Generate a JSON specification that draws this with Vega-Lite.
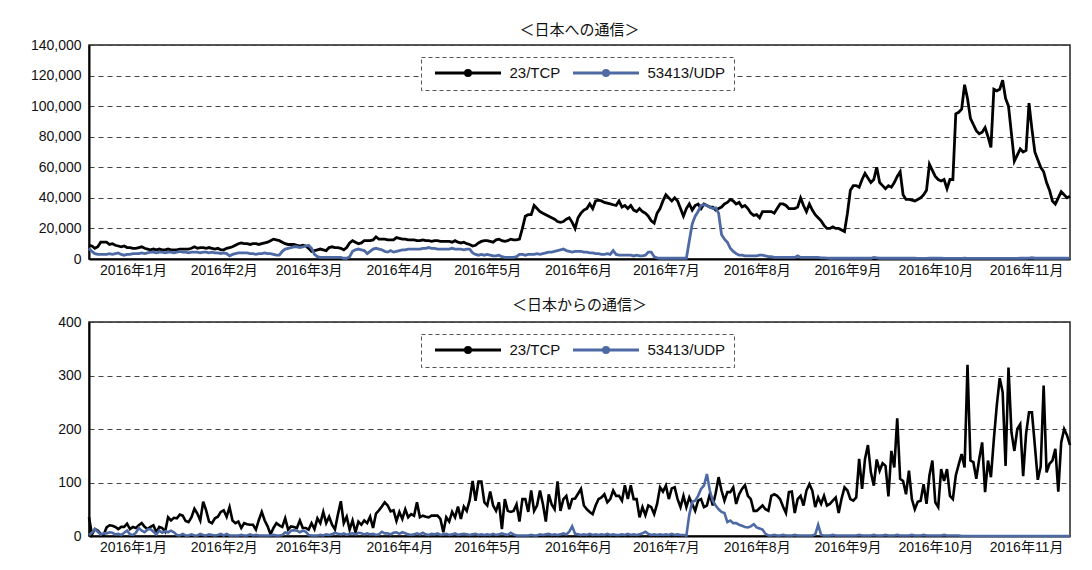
{
"$schema":"https://vega.github.io/schema/vega-lite/v6.json",
"background":"white",
"padding":{"left":28,"top":22,"right":23,"bottom":5},
"spacing":19,
"config":{
"font":"Noto Sans CJK JP",
"view":{"stroke":"#222","strokeWidth":1.5},
"axis":{"labelFont":"Liberation Sans, Noto Sans CJK JP","labelFontSize":14,"labelColor":"#111","ticks":false,"domainColor":"#000","domainWidth":2,"gridColor":"#444","gridDash":[5,4],"gridWidth":1},
"title":{"font":"Noto Sans CJK JP","fontSize":15,"fontWeight":"normal","color":"#111"},
"legend":{"orient":"none","legendX":332,"legendY":12,"direction":"horizontal","symbolType":"M-0.25,0H10.75M5.67,0A0.42,0.42,0,1,1,4.83,0A0.42,0.42,0,1,1,5.67,0","symbolSize":144,"symbolStrokeWidth":3,"labelFont":"Liberation Sans, Noto Sans CJK JP","labelFontSize":15,"labelColor":"#111","labelOffset":65.5,"columnPadding":6,"padding":8,"strokeColor":"#555","fillColor":"white"}
},
"resolve":{"scale":{"color":"independent"},"legend":{"color":"independent"}},
"datasets":{
"to_japan":[
{"date":"2015-12-17","23/TCP":9000,"53413/UDP":7000},
{"date":"2015-12-18","23/TCP":8500,"53413/UDP":5000},
{"date":"2015-12-19","23/TCP":7000,"53413/UDP":3500},
{"date":"2015-12-20","23/TCP":8000,"53413/UDP":3000},
{"date":"2015-12-21","23/TCP":11000,"53413/UDP":3000},
{"date":"2015-12-22","23/TCP":11000,"53413/UDP":3000},
{"date":"2015-12-23","23/TCP":11000,"53413/UDP":3000},
{"date":"2015-12-24","23/TCP":9500,"53413/UDP":3500},
{"date":"2015-12-25","23/TCP":10000,"53413/UDP":3000},
{"date":"2015-12-26","23/TCP":9000,"53413/UDP":3500},
{"date":"2015-12-27","23/TCP":8500,"53413/UDP":4000},
{"date":"2015-12-28","23/TCP":8000,"53413/UDP":3000},
{"date":"2015-12-29","23/TCP":8500,"53413/UDP":2500},
{"date":"2015-12-30","23/TCP":7500,"53413/UDP":3000},
{"date":"2015-12-31","23/TCP":7500,"53413/UDP":3000},
{"date":"2016-01-01","23/TCP":7000,"53413/UDP":3500},
{"date":"2016-01-02","23/TCP":7000,"53413/UDP":3500},
{"date":"2016-01-03","23/TCP":7500,"53413/UDP":3500},
{"date":"2016-01-04","23/TCP":8000,"53413/UDP":4000},
{"date":"2016-01-05","23/TCP":7000,"53413/UDP":3500},
{"date":"2016-01-06","23/TCP":6500,"53413/UDP":4000},
{"date":"2016-01-07","23/TCP":6000,"53413/UDP":4500},
{"date":"2016-01-08","23/TCP":6500,"53413/UDP":4500},
{"date":"2016-01-09","23/TCP":6000,"53413/UDP":4000},
{"date":"2016-01-10","23/TCP":6500,"53413/UDP":4500},
{"date":"2016-01-11","23/TCP":6000,"53413/UDP":4500},
{"date":"2016-01-12","23/TCP":6000,"53413/UDP":4000},
{"date":"2016-01-13","23/TCP":6500,"53413/UDP":4500},
{"date":"2016-01-14","23/TCP":6000,"53413/UDP":4500},
{"date":"2016-01-15","23/TCP":6000,"53413/UDP":4000},
{"date":"2016-01-16","23/TCP":6000,"53413/UDP":4500},
{"date":"2016-01-17","23/TCP":6500,"53413/UDP":5000},
{"date":"2016-01-18","23/TCP":6500,"53413/UDP":4500},
{"date":"2016-01-19","23/TCP":6500,"53413/UDP":4500},
{"date":"2016-01-20","23/TCP":6500,"53413/UDP":4000},
{"date":"2016-01-21","23/TCP":7000,"53413/UDP":4500},
{"date":"2016-01-22","23/TCP":8000,"53413/UDP":4500},
{"date":"2016-01-23","23/TCP":7000,"53413/UDP":4500},
{"date":"2016-01-24","23/TCP":7500,"53413/UDP":4000},
{"date":"2016-01-25","23/TCP":7500,"53413/UDP":4500},
{"date":"2016-01-26","23/TCP":7000,"53413/UDP":4500},
{"date":"2016-01-27","23/TCP":7500,"53413/UDP":4000},
{"date":"2016-01-28","23/TCP":7000,"53413/UDP":4500},
{"date":"2016-01-29","23/TCP":6500,"53413/UDP":4000},
{"date":"2016-01-30","23/TCP":7000,"53413/UDP":4000},
{"date":"2016-01-31","23/TCP":6000,"53413/UDP":3500},
{"date":"2016-02-01","23/TCP":6000,"53413/UDP":4000},
{"date":"2016-02-02","23/TCP":7000,"53413/UDP":3500},
{"date":"2016-02-03","23/TCP":7500,"53413/UDP":2000},
{"date":"2016-02-04","23/TCP":8000,"53413/UDP":3000},
{"date":"2016-02-05","23/TCP":9000,"53413/UDP":3500},
{"date":"2016-02-06","23/TCP":10000,"53413/UDP":4000},
{"date":"2016-02-07","23/TCP":10500,"53413/UDP":4000},
{"date":"2016-02-08","23/TCP":10000,"53413/UDP":4000},
{"date":"2016-02-09","23/TCP":10000,"53413/UDP":4000},
{"date":"2016-02-10","23/TCP":9500,"53413/UDP":3500},
{"date":"2016-02-11","23/TCP":10000,"53413/UDP":3500},
{"date":"2016-02-12","23/TCP":10000,"53413/UDP":3000},
{"date":"2016-02-13","23/TCP":9500,"53413/UDP":3500},
{"date":"2016-02-14","23/TCP":10000,"53413/UDP":3500},
{"date":"2016-02-15","23/TCP":10500,"53413/UDP":4000},
{"date":"2016-02-16","23/TCP":11000,"53413/UDP":3500},
{"date":"2016-02-17","23/TCP":12000,"53413/UDP":3500},
{"date":"2016-02-18","23/TCP":13000,"53413/UDP":3000},
{"date":"2016-02-19","23/TCP":12500,"53413/UDP":2500},
{"date":"2016-02-20","23/TCP":12000,"53413/UDP":2500},
{"date":"2016-02-21","23/TCP":11000,"53413/UDP":5000},
{"date":"2016-02-22","23/TCP":10000,"53413/UDP":6500},
{"date":"2016-02-23","23/TCP":9500,"53413/UDP":7000},
{"date":"2016-02-24","23/TCP":9500,"53413/UDP":7500},
{"date":"2016-02-25","23/TCP":9500,"53413/UDP":8000},
{"date":"2016-02-26","23/TCP":9000,"53413/UDP":8000},
{"date":"2016-02-27","23/TCP":8500,"53413/UDP":7500},
{"date":"2016-02-28","23/TCP":9000,"53413/UDP":8000},
{"date":"2016-02-29","23/TCP":8500,"53413/UDP":8500},
{"date":"2016-03-01","23/TCP":7000,"53413/UDP":9000},
{"date":"2016-03-02","23/TCP":5000,"53413/UDP":7000},
{"date":"2016-03-03","23/TCP":5500,"53413/UDP":3000},
{"date":"2016-03-04","23/TCP":6000,"53413/UDP":1500},
{"date":"2016-03-05","23/TCP":6500,"53413/UDP":1000},
{"date":"2016-03-06","23/TCP":6000,"53413/UDP":1000},
{"date":"2016-03-07","23/TCP":5500,"53413/UDP":1000},
{"date":"2016-03-08","23/TCP":7500,"53413/UDP":1000},
{"date":"2016-03-09","23/TCP":8000,"53413/UDP":1000},
{"date":"2016-03-10","23/TCP":7500,"53413/UDP":1000},
{"date":"2016-03-11","23/TCP":7500,"53413/UDP":1000},
{"date":"2016-03-12","23/TCP":7000,"53413/UDP":1000},
{"date":"2016-03-13","23/TCP":6000,"53413/UDP":500},
{"date":"2016-03-14","23/TCP":7500,"53413/UDP":500},
{"date":"2016-03-15","23/TCP":10500,"53413/UDP":1500},
{"date":"2016-03-16","23/TCP":12000,"53413/UDP":5000},
{"date":"2016-03-17","23/TCP":11000,"53413/UDP":6000},
{"date":"2016-03-18","23/TCP":10000,"53413/UDP":6500},
{"date":"2016-03-19","23/TCP":10500,"53413/UDP":6000},
{"date":"2016-03-20","23/TCP":12000,"53413/UDP":5500},
{"date":"2016-03-21","23/TCP":12000,"53413/UDP":3500},
{"date":"2016-03-22","23/TCP":12000,"53413/UDP":5000},
{"date":"2016-03-23","23/TCP":12500,"53413/UDP":6500},
{"date":"2016-03-24","23/TCP":14500,"53413/UDP":7000},
{"date":"2016-03-25","23/TCP":13000,"53413/UDP":6500},
{"date":"2016-03-26","23/TCP":13000,"53413/UDP":6000},
{"date":"2016-03-27","23/TCP":13000,"53413/UDP":5000},
{"date":"2016-03-28","23/TCP":12500,"53413/UDP":4500},
{"date":"2016-03-29","23/TCP":12500,"53413/UDP":5500},
{"date":"2016-03-30","23/TCP":12500,"53413/UDP":4500},
{"date":"2016-03-31","23/TCP":14000,"53413/UDP":5000},
{"date":"2016-04-01","23/TCP":13500,"53413/UDP":5500},
{"date":"2016-04-02","23/TCP":13000,"53413/UDP":6000},
{"date":"2016-04-03","23/TCP":13000,"53413/UDP":6000},
{"date":"2016-04-04","23/TCP":12500,"53413/UDP":6500},
{"date":"2016-04-05","23/TCP":12500,"53413/UDP":6500},
{"date":"2016-04-06","23/TCP":12500,"53413/UDP":6500},
{"date":"2016-04-07","23/TCP":12000,"53413/UDP":6500},
{"date":"2016-04-08","23/TCP":12000,"53413/UDP":6500},
{"date":"2016-04-09","23/TCP":12500,"53413/UDP":7000},
{"date":"2016-04-10","23/TCP":12000,"53413/UDP":7000},
{"date":"2016-04-11","23/TCP":12000,"53413/UDP":7500},
{"date":"2016-04-12","23/TCP":11500,"53413/UDP":7000},
{"date":"2016-04-13","23/TCP":12000,"53413/UDP":7000},
{"date":"2016-04-14","23/TCP":12000,"53413/UDP":6500},
{"date":"2016-04-15","23/TCP":11500,"53413/UDP":6500},
{"date":"2016-04-16","23/TCP":11500,"53413/UDP":6500},
{"date":"2016-04-17","23/TCP":11500,"53413/UDP":6500},
{"date":"2016-04-18","23/TCP":11500,"53413/UDP":6500},
{"date":"2016-04-19","23/TCP":11000,"53413/UDP":7000},
{"date":"2016-04-20","23/TCP":12000,"53413/UDP":6500},
{"date":"2016-04-21","23/TCP":11000,"53413/UDP":6500},
{"date":"2016-04-22","23/TCP":10500,"53413/UDP":6500},
{"date":"2016-04-23","23/TCP":11000,"53413/UDP":6000},
{"date":"2016-04-24","23/TCP":10000,"53413/UDP":6500},
{"date":"2016-04-25","23/TCP":9500,"53413/UDP":6500},
{"date":"2016-04-26","23/TCP":8500,"53413/UDP":4000},
{"date":"2016-04-27","23/TCP":9000,"53413/UDP":3000},
{"date":"2016-04-28","23/TCP":10500,"53413/UDP":2500},
{"date":"2016-04-29","23/TCP":11500,"53413/UDP":3000},
{"date":"2016-04-30","23/TCP":12000,"53413/UDP":2500},
{"date":"2016-05-01","23/TCP":12000,"53413/UDP":3000},
{"date":"2016-05-02","23/TCP":11500,"53413/UDP":2500},
{"date":"2016-05-03","23/TCP":11000,"53413/UDP":2000},
{"date":"2016-05-04","23/TCP":12500,"53413/UDP":2000},
{"date":"2016-05-05","23/TCP":13000,"53413/UDP":2500},
{"date":"2016-05-06","23/TCP":12000,"53413/UDP":1500},
{"date":"2016-05-07","23/TCP":11500,"53413/UDP":1000},
{"date":"2016-05-08","23/TCP":12000,"53413/UDP":1000},
{"date":"2016-05-09","23/TCP":13000,"53413/UDP":1000},
{"date":"2016-05-10","23/TCP":12500,"53413/UDP":1000},
{"date":"2016-05-11","23/TCP":12500,"53413/UDP":1500},
{"date":"2016-05-12","23/TCP":13000,"53413/UDP":3000},
{"date":"2016-05-13","23/TCP":20000,"53413/UDP":3000},
{"date":"2016-05-14","23/TCP":28000,"53413/UDP":2500},
{"date":"2016-05-15","23/TCP":29000,"53413/UDP":3000},
{"date":"2016-05-16","23/TCP":29000,"53413/UDP":3000},
{"date":"2016-05-17","23/TCP":35000,"53413/UDP":3000},
{"date":"2016-05-18","23/TCP":33000,"53413/UDP":3500},
{"date":"2016-05-19","23/TCP":31000,"53413/UDP":3000},
{"date":"2016-05-20","23/TCP":30000,"53413/UDP":3500},
{"date":"2016-05-21","23/TCP":29000,"53413/UDP":4000},
{"date":"2016-05-22","23/TCP":28000,"53413/UDP":4500},
{"date":"2016-05-23","23/TCP":27000,"53413/UDP":4500},
{"date":"2016-05-24","23/TCP":26000,"53413/UDP":5000},
{"date":"2016-05-25","23/TCP":24500,"53413/UDP":5500},
{"date":"2016-05-26","23/TCP":24000,"53413/UDP":6000},
{"date":"2016-05-27","23/TCP":24500,"53413/UDP":6500},
{"date":"2016-05-28","23/TCP":26000,"53413/UDP":5500},
{"date":"2016-05-29","23/TCP":27000,"53413/UDP":5000},
{"date":"2016-05-30","23/TCP":24000,"53413/UDP":4500},
{"date":"2016-05-31","23/TCP":20000,"53413/UDP":5000},
{"date":"2016-06-01","23/TCP":27000,"53413/UDP":5000},
{"date":"2016-06-02","23/TCP":30000,"53413/UDP":5000},
{"date":"2016-06-03","23/TCP":32000,"53413/UDP":4500},
{"date":"2016-06-04","23/TCP":33000,"53413/UDP":4500},
{"date":"2016-06-05","23/TCP":36000,"53413/UDP":4000},
{"date":"2016-06-06","23/TCP":33000,"53413/UDP":4000},
{"date":"2016-06-07","23/TCP":38000,"53413/UDP":3500},
{"date":"2016-06-08","23/TCP":38500,"53413/UDP":3500},
{"date":"2016-06-09","23/TCP":38000,"53413/UDP":3000},
{"date":"2016-06-10","23/TCP":37000,"53413/UDP":3000},
{"date":"2016-06-11","23/TCP":36500,"53413/UDP":3500},
{"date":"2016-06-12","23/TCP":36000,"53413/UDP":3000},
{"date":"2016-06-13","23/TCP":35500,"53413/UDP":5500},
{"date":"2016-06-14","23/TCP":35000,"53413/UDP":3000},
{"date":"2016-06-15","23/TCP":38000,"53413/UDP":2500},
{"date":"2016-06-16","23/TCP":34000,"53413/UDP":2500},
{"date":"2016-06-17","23/TCP":35000,"53413/UDP":2500},
{"date":"2016-06-18","23/TCP":33000,"53413/UDP":2500},
{"date":"2016-06-19","23/TCP":35000,"53413/UDP":2500},
{"date":"2016-06-20","23/TCP":32000,"53413/UDP":2000},
{"date":"2016-06-21","23/TCP":31000,"53413/UDP":2500},
{"date":"2016-06-22","23/TCP":33000,"53413/UDP":2000},
{"date":"2016-06-23","23/TCP":31000,"53413/UDP":2000},
{"date":"2016-06-24","23/TCP":30000,"53413/UDP":2500},
{"date":"2016-06-25","23/TCP":28000,"53413/UDP":4500},
{"date":"2016-06-26","23/TCP":25000,"53413/UDP":4500},
{"date":"2016-06-27","23/TCP":23500,"53413/UDP":1500},
{"date":"2016-06-28","23/TCP":30000,"53413/UDP":800},
{"date":"2016-06-29","23/TCP":33000,"53413/UDP":500},
{"date":"2016-06-30","23/TCP":38000,"53413/UDP":500},
{"date":"2016-07-01","23/TCP":42000,"53413/UDP":500},
{"date":"2016-07-02","23/TCP":40000,"53413/UDP":500},
{"date":"2016-07-03","23/TCP":38000,"53413/UDP":500},
{"date":"2016-07-04","23/TCP":40000,"53413/UDP":500},
{"date":"2016-07-05","23/TCP":38000,"53413/UDP":500},
{"date":"2016-07-06","23/TCP":33000,"53413/UDP":500},
{"date":"2016-07-07","23/TCP":28000,"53413/UDP":500},
{"date":"2016-07-08","23/TCP":33000,"53413/UDP":500},
{"date":"2016-07-09","23/TCP":36000,"53413/UDP":12000},
{"date":"2016-07-10","23/TCP":32000,"53413/UDP":23000},
{"date":"2016-07-11","23/TCP":35000,"53413/UDP":28000},
{"date":"2016-07-12","23/TCP":36000,"53413/UDP":31000},
{"date":"2016-07-13","23/TCP":33000,"53413/UDP":35000},
{"date":"2016-07-14","23/TCP":36000,"53413/UDP":35500},
{"date":"2016-07-15","23/TCP":35000,"53413/UDP":35000},
{"date":"2016-07-16","23/TCP":34000,"53413/UDP":34000},
{"date":"2016-07-17","23/TCP":34000,"53413/UDP":33000},
{"date":"2016-07-18","23/TCP":32000,"53413/UDP":33500},
{"date":"2016-07-19","23/TCP":33000,"53413/UDP":30000},
{"date":"2016-07-20","23/TCP":34000,"53413/UDP":16000},
{"date":"2016-07-21","23/TCP":36000,"53413/UDP":13000},
{"date":"2016-07-22","23/TCP":37000,"53413/UDP":11000},
{"date":"2016-07-23","23/TCP":39000,"53413/UDP":7000},
{"date":"2016-07-24","23/TCP":38000,"53413/UDP":5000},
{"date":"2016-07-25","23/TCP":36000,"53413/UDP":3500},
{"date":"2016-07-26","23/TCP":37000,"53413/UDP":2500},
{"date":"2016-07-27","23/TCP":34000,"53413/UDP":2500},
{"date":"2016-07-28","23/TCP":35000,"53413/UDP":2000},
{"date":"2016-07-29","23/TCP":33000,"53413/UDP":2000},
{"date":"2016-07-30","23/TCP":30000,"53413/UDP":2000},
{"date":"2016-07-31","23/TCP":28500,"53413/UDP":2000},
{"date":"2016-08-01","23/TCP":29000,"53413/UDP":2000},
{"date":"2016-08-02","23/TCP":27000,"53413/UDP":2500},
{"date":"2016-08-03","23/TCP":31000,"53413/UDP":2500},
{"date":"2016-08-04","23/TCP":31000,"53413/UDP":2000},
{"date":"2016-08-05","23/TCP":31000,"53413/UDP":1500},
{"date":"2016-08-06","23/TCP":31000,"53413/UDP":1500},
{"date":"2016-08-07","23/TCP":30000,"53413/UDP":1000},
{"date":"2016-08-08","23/TCP":33000,"53413/UDP":1000},
{"date":"2016-08-09","23/TCP":36000,"53413/UDP":1000},
{"date":"2016-08-10","23/TCP":36000,"53413/UDP":1000},
{"date":"2016-08-11","23/TCP":35000,"53413/UDP":1000},
{"date":"2016-08-12","23/TCP":33000,"53413/UDP":1000},
{"date":"2016-08-13","23/TCP":33000,"53413/UDP":1000},
{"date":"2016-08-14","23/TCP":33000,"53413/UDP":1000},
{"date":"2016-08-15","23/TCP":34000,"53413/UDP":2000},
{"date":"2016-08-16","23/TCP":40000,"53413/UDP":1000},
{"date":"2016-08-17","23/TCP":35000,"53413/UDP":1000},
{"date":"2016-08-18","23/TCP":31000,"53413/UDP":1000},
{"date":"2016-08-19","23/TCP":36000,"53413/UDP":1000},
{"date":"2016-08-20","23/TCP":32000,"53413/UDP":1000},
{"date":"2016-08-21","23/TCP":29000,"53413/UDP":1000},
{"date":"2016-08-22","23/TCP":27000,"53413/UDP":1000},
{"date":"2016-08-23","23/TCP":25000,"53413/UDP":800},
{"date":"2016-08-24","23/TCP":22000,"53413/UDP":800},
{"date":"2016-08-25","23/TCP":20000,"53413/UDP":600},
{"date":"2016-08-26","23/TCP":20000,"53413/UDP":500},
{"date":"2016-08-27","23/TCP":21000,"53413/UDP":500},
{"date":"2016-08-28","23/TCP":20000,"53413/UDP":500},
{"date":"2016-08-29","23/TCP":20000,"53413/UDP":500},
{"date":"2016-08-30","23/TCP":19000,"53413/UDP":500},
{"date":"2016-08-31","23/TCP":18000,"53413/UDP":500},
{"date":"2016-09-01","23/TCP":30000,"53413/UDP":500},
{"date":"2016-09-02","23/TCP":45000,"53413/UDP":500},
{"date":"2016-09-03","23/TCP":48000,"53413/UDP":500},
{"date":"2016-09-04","23/TCP":48000,"53413/UDP":500},
{"date":"2016-09-05","23/TCP":47000,"53413/UDP":500},
{"date":"2016-09-06","23/TCP":52000,"53413/UDP":500},
{"date":"2016-09-07","23/TCP":56000,"53413/UDP":500},
{"date":"2016-09-08","23/TCP":53000,"53413/UDP":500},
{"date":"2016-09-09","23/TCP":50000,"53413/UDP":500},
{"date":"2016-09-10","23/TCP":52000,"53413/UDP":1000},
{"date":"2016-09-11","23/TCP":60000,"53413/UDP":800},
{"date":"2016-09-12","23/TCP":50000,"53413/UDP":500},
{"date":"2016-09-13","23/TCP":48000,"53413/UDP":500},
{"date":"2016-09-14","23/TCP":46000,"53413/UDP":500},
{"date":"2016-09-15","23/TCP":48000,"53413/UDP":500},
{"date":"2016-09-16","23/TCP":47000,"53413/UDP":500},
{"date":"2016-09-17","23/TCP":50000,"53413/UDP":500},
{"date":"2016-09-18","23/TCP":54000,"53413/UDP":600},
{"date":"2016-09-19","23/TCP":57000,"53413/UDP":500},
{"date":"2016-09-20","23/TCP":42000,"53413/UDP":500},
{"date":"2016-09-21","23/TCP":39000,"53413/UDP":500},
{"date":"2016-09-22","23/TCP":39000,"53413/UDP":500},
{"date":"2016-09-23","23/TCP":38500,"53413/UDP":500},
{"date":"2016-09-24","23/TCP":38000,"53413/UDP":500},
{"date":"2016-09-25","23/TCP":39000,"53413/UDP":400},
{"date":"2016-09-26","23/TCP":40000,"53413/UDP":400},
{"date":"2016-09-27","23/TCP":42000,"53413/UDP":400},
{"date":"2016-09-28","23/TCP":45000,"53413/UDP":400},
{"date":"2016-09-29","23/TCP":62000,"53413/UDP":500},
{"date":"2016-09-30","23/TCP":58000,"53413/UDP":500},
{"date":"2016-10-01","23/TCP":54000,"53413/UDP":500},
{"date":"2016-10-02","23/TCP":52000,"53413/UDP":600},
{"date":"2016-10-03","23/TCP":51000,"53413/UDP":500},
{"date":"2016-10-04","23/TCP":52000,"53413/UDP":400},
{"date":"2016-10-05","23/TCP":46000,"53413/UDP":400},
{"date":"2016-10-06","23/TCP":52000,"53413/UDP":400},
{"date":"2016-10-07","23/TCP":52000,"53413/UDP":400},
{"date":"2016-10-08","23/TCP":95000,"53413/UDP":400},
{"date":"2016-10-09","23/TCP":96000,"53413/UDP":400},
{"date":"2016-10-10","23/TCP":98000,"53413/UDP":400},
{"date":"2016-10-11","23/TCP":114000,"53413/UDP":500},
{"date":"2016-10-12","23/TCP":105000,"53413/UDP":400},
{"date":"2016-10-13","23/TCP":92000,"53413/UDP":400},
{"date":"2016-10-14","23/TCP":88000,"53413/UDP":400},
{"date":"2016-10-15","23/TCP":84000,"53413/UDP":400},
{"date":"2016-10-16","23/TCP":82000,"53413/UDP":400},
{"date":"2016-10-17","23/TCP":83000,"53413/UDP":400},
{"date":"2016-10-18","23/TCP":86000,"53413/UDP":400},
{"date":"2016-10-19","23/TCP":80000,"53413/UDP":400},
{"date":"2016-10-20","23/TCP":73000,"53413/UDP":400},
{"date":"2016-10-21","23/TCP":111000,"53413/UDP":400},
{"date":"2016-10-22","23/TCP":110000,"53413/UDP":400},
{"date":"2016-10-23","23/TCP":111000,"53413/UDP":400},
{"date":"2016-10-24","23/TCP":117000,"53413/UDP":400},
{"date":"2016-10-25","23/TCP":105000,"53413/UDP":400},
{"date":"2016-10-26","23/TCP":100000,"53413/UDP":400},
{"date":"2016-10-27","23/TCP":82000,"53413/UDP":400},
{"date":"2016-10-28","23/TCP":64000,"53413/UDP":400},
{"date":"2016-10-29","23/TCP":68000,"53413/UDP":400},
{"date":"2016-10-30","23/TCP":72000,"53413/UDP":500},
{"date":"2016-10-31","23/TCP":70000,"53413/UDP":500},
{"date":"2016-11-01","23/TCP":71000,"53413/UDP":500},
{"date":"2016-11-02","23/TCP":102000,"53413/UDP":600},
{"date":"2016-11-03","23/TCP":85000,"53413/UDP":800},
{"date":"2016-11-04","23/TCP":70000,"53413/UDP":500},
{"date":"2016-11-05","23/TCP":65000,"53413/UDP":500},
{"date":"2016-11-06","23/TCP":60000,"53413/UDP":500},
{"date":"2016-11-07","23/TCP":57000,"53413/UDP":500},
{"date":"2016-11-08","23/TCP":50000,"53413/UDP":500},
{"date":"2016-11-09","23/TCP":45000,"53413/UDP":500},
{"date":"2016-11-10","23/TCP":38000,"53413/UDP":500},
{"date":"2016-11-11","23/TCP":36000,"53413/UDP":500},
{"date":"2016-11-12","23/TCP":40000,"53413/UDP":600},
{"date":"2016-11-13","23/TCP":44000,"53413/UDP":500},
{"date":"2016-11-14","23/TCP":42000,"53413/UDP":500},
{"date":"2016-11-15","23/TCP":40000,"53413/UDP":500},
{"date":"2016-11-16","23/TCP":41000,"53413/UDP":600}
],
"from_japan":[
{"date":"2015-12-17","23/TCP":35,"53413/UDP":2},
{"date":"2015-12-18","23/TCP":3,"53413/UDP":6},
{"date":"2015-12-19","23/TCP":13,"53413/UDP":13},
{"date":"2015-12-20","23/TCP":10,"53413/UDP":8},
{"date":"2015-12-21","23/TCP":4,"53413/UDP":3},
{"date":"2015-12-22","23/TCP":2,"53413/UDP":5},
{"date":"2015-12-23","23/TCP":16,"53413/UDP":5},
{"date":"2015-12-24","23/TCP":20,"53413/UDP":7},
{"date":"2015-12-25","23/TCP":19,"53413/UDP":6},
{"date":"2015-12-26","23/TCP":17,"53413/UDP":3},
{"date":"2015-12-27","23/TCP":13,"53413/UDP":4},
{"date":"2015-12-28","23/TCP":17,"53413/UDP":2},
{"date":"2015-12-29","23/TCP":17,"53413/UDP":6},
{"date":"2015-12-30","23/TCP":23,"53413/UDP":10},
{"date":"2015-12-31","23/TCP":13,"53413/UDP":3},
{"date":"2016-01-01","23/TCP":17,"53413/UDP":2},
{"date":"2016-01-02","23/TCP":15,"53413/UDP":6},
{"date":"2016-01-03","23/TCP":20,"53413/UDP":15},
{"date":"2016-01-04","23/TCP":24,"53413/UDP":10},
{"date":"2016-01-05","23/TCP":17,"53413/UDP":7},
{"date":"2016-01-06","23/TCP":13,"53413/UDP":12},
{"date":"2016-01-07","23/TCP":17,"53413/UDP":13},
{"date":"2016-01-08","23/TCP":20,"53413/UDP":8},
{"date":"2016-01-09","23/TCP":7,"53413/UDP":3},
{"date":"2016-01-10","23/TCP":17,"53413/UDP":10},
{"date":"2016-01-11","23/TCP":15,"53413/UDP":6},
{"date":"2016-01-12","23/TCP":8,"53413/UDP":9},
{"date":"2016-01-13","23/TCP":35,"53413/UDP":7},
{"date":"2016-01-14","23/TCP":29,"53413/UDP":10},
{"date":"2016-01-15","23/TCP":34,"53413/UDP":7},
{"date":"2016-01-16","23/TCP":33,"53413/UDP":2},
{"date":"2016-01-17","23/TCP":40,"53413/UDP":1},
{"date":"2016-01-18","23/TCP":38,"53413/UDP":4},
{"date":"2016-01-19","23/TCP":28,"53413/UDP":1},
{"date":"2016-01-20","23/TCP":26,"53413/UDP":1},
{"date":"2016-01-21","23/TCP":35,"53413/UDP":3},
{"date":"2016-01-22","23/TCP":51,"53413/UDP":1},
{"date":"2016-01-23","23/TCP":42,"53413/UDP":1},
{"date":"2016-01-24","23/TCP":29,"53413/UDP":4},
{"date":"2016-01-25","23/TCP":64,"53413/UDP":2},
{"date":"2016-01-26","23/TCP":48,"53413/UDP":1},
{"date":"2016-01-27","23/TCP":27,"53413/UDP":3},
{"date":"2016-01-28","23/TCP":24,"53413/UDP":2},
{"date":"2016-01-29","23/TCP":33,"53413/UDP":1},
{"date":"2016-01-30","23/TCP":36,"53413/UDP":2},
{"date":"2016-01-31","23/TCP":45,"53413/UDP":4},
{"date":"2016-02-01","23/TCP":48,"53413/UDP":1},
{"date":"2016-02-02","23/TCP":36,"53413/UDP":4},
{"date":"2016-02-03","23/TCP":54,"53413/UDP":1},
{"date":"2016-02-04","23/TCP":29,"53413/UDP":1},
{"date":"2016-02-05","23/TCP":24,"53413/UDP":1},
{"date":"2016-02-06","23/TCP":27,"53413/UDP":1},
{"date":"2016-02-07","23/TCP":15,"53413/UDP":2},
{"date":"2016-02-08","23/TCP":24,"53413/UDP":1},
{"date":"2016-02-09","23/TCP":22,"53413/UDP":1},
{"date":"2016-02-10","23/TCP":21,"53413/UDP":3},
{"date":"2016-02-11","23/TCP":21,"53413/UDP":1},
{"date":"2016-02-12","23/TCP":12,"53413/UDP":2},
{"date":"2016-02-13","23/TCP":30,"53413/UDP":1},
{"date":"2016-02-14","23/TCP":45,"53413/UDP":1},
{"date":"2016-02-15","23/TCP":29,"53413/UDP":1},
{"date":"2016-02-16","23/TCP":18,"53413/UDP":1},
{"date":"2016-02-17","23/TCP":3,"53413/UDP":1},
{"date":"2016-02-18","23/TCP":15,"53413/UDP":2},
{"date":"2016-02-19","23/TCP":24,"53413/UDP":1},
{"date":"2016-02-20","23/TCP":20,"53413/UDP":1},
{"date":"2016-02-21","23/TCP":17,"53413/UDP":2},
{"date":"2016-02-22","23/TCP":33,"53413/UDP":7},
{"date":"2016-02-23","23/TCP":12,"53413/UDP":4},
{"date":"2016-02-24","23/TCP":18,"53413/UDP":10},
{"date":"2016-02-25","23/TCP":17,"53413/UDP":11},
{"date":"2016-02-26","23/TCP":15,"53413/UDP":10},
{"date":"2016-02-27","23/TCP":29,"53413/UDP":7},
{"date":"2016-02-28","23/TCP":15,"53413/UDP":10},
{"date":"2016-02-29","23/TCP":15,"53413/UDP":8},
{"date":"2016-03-01","23/TCP":12,"53413/UDP":2},
{"date":"2016-03-02","23/TCP":24,"53413/UDP":1},
{"date":"2016-03-03","23/TCP":13,"53413/UDP":1},
{"date":"2016-03-04","23/TCP":33,"53413/UDP":1},
{"date":"2016-03-05","23/TCP":24,"53413/UDP":2},
{"date":"2016-03-06","23/TCP":45,"53413/UDP":1},
{"date":"2016-03-07","23/TCP":24,"53413/UDP":3},
{"date":"2016-03-08","23/TCP":36,"53413/UDP":2},
{"date":"2016-03-09","23/TCP":21,"53413/UDP":3},
{"date":"2016-03-10","23/TCP":12,"53413/UDP":6},
{"date":"2016-03-11","23/TCP":40,"53413/UDP":4},
{"date":"2016-03-12","23/TCP":65,"53413/UDP":3},
{"date":"2016-03-13","23/TCP":24,"53413/UDP":5},
{"date":"2016-03-14","23/TCP":36,"53413/UDP":2},
{"date":"2016-03-15","23/TCP":12,"53413/UDP":4},
{"date":"2016-03-16","23/TCP":29,"53413/UDP":5},
{"date":"2016-03-17","23/TCP":7,"53413/UDP":3},
{"date":"2016-03-18","23/TCP":27,"53413/UDP":6},
{"date":"2016-03-19","23/TCP":21,"53413/UDP":5},
{"date":"2016-03-20","23/TCP":29,"53413/UDP":3},
{"date":"2016-03-21","23/TCP":24,"53413/UDP":5},
{"date":"2016-03-22","23/TCP":36,"53413/UDP":3},
{"date":"2016-03-23","23/TCP":15,"53413/UDP":4},
{"date":"2016-03-24","23/TCP":42,"53413/UDP":2},
{"date":"2016-03-25","23/TCP":48,"53413/UDP":3},
{"date":"2016-03-26","23/TCP":55,"53413/UDP":8},
{"date":"2016-03-27","23/TCP":63,"53413/UDP":5},
{"date":"2016-03-28","23/TCP":57,"53413/UDP":5},
{"date":"2016-03-29","23/TCP":46,"53413/UDP":3},
{"date":"2016-03-30","23/TCP":48,"53413/UDP":6},
{"date":"2016-03-31","23/TCP":28,"53413/UDP":7},
{"date":"2016-04-01","23/TCP":45,"53413/UDP":4},
{"date":"2016-04-02","23/TCP":32,"53413/UDP":7},
{"date":"2016-04-03","23/TCP":50,"53413/UDP":5},
{"date":"2016-04-04","23/TCP":35,"53413/UDP":3},
{"date":"2016-04-05","23/TCP":41,"53413/UDP":2},
{"date":"2016-04-06","23/TCP":38,"53413/UDP":3},
{"date":"2016-04-07","23/TCP":63,"53413/UDP":5},
{"date":"2016-04-08","23/TCP":35,"53413/UDP":3},
{"date":"2016-04-09","23/TCP":38,"53413/UDP":6},
{"date":"2016-04-10","23/TCP":36,"53413/UDP":3},
{"date":"2016-04-11","23/TCP":35,"53413/UDP":2},
{"date":"2016-04-12","23/TCP":38,"53413/UDP":4},
{"date":"2016-04-13","23/TCP":38,"53413/UDP":3},
{"date":"2016-04-14","23/TCP":38,"53413/UDP":5},
{"date":"2016-04-15","23/TCP":32,"53413/UDP":2},
{"date":"2016-04-16","23/TCP":7,"53413/UDP":3},
{"date":"2016-04-17","23/TCP":35,"53413/UDP":4},
{"date":"2016-04-18","23/TCP":27,"53413/UDP":2},
{"date":"2016-04-19","23/TCP":45,"53413/UDP":3},
{"date":"2016-04-20","23/TCP":35,"53413/UDP":5},
{"date":"2016-04-21","23/TCP":55,"53413/UDP":2},
{"date":"2016-04-22","23/TCP":32,"53413/UDP":3},
{"date":"2016-04-23","23/TCP":55,"53413/UDP":4},
{"date":"2016-04-24","23/TCP":47,"53413/UDP":3},
{"date":"2016-04-25","23/TCP":67,"53413/UDP":2},
{"date":"2016-04-26","23/TCP":103,"53413/UDP":3},
{"date":"2016-04-27","23/TCP":66,"53413/UDP":4},
{"date":"2016-04-28","23/TCP":102,"53413/UDP":2},
{"date":"2016-04-29","23/TCP":102,"53413/UDP":3},
{"date":"2016-04-30","23/TCP":63,"53413/UDP":2},
{"date":"2016-05-01","23/TCP":57,"53413/UDP":3},
{"date":"2016-05-02","23/TCP":83,"53413/UDP":2},
{"date":"2016-05-03","23/TCP":57,"53413/UDP":4},
{"date":"2016-05-04","23/TCP":47,"53413/UDP":2},
{"date":"2016-05-05","23/TCP":63,"53413/UDP":3},
{"date":"2016-05-06","23/TCP":13,"53413/UDP":5},
{"date":"2016-05-07","23/TCP":69,"53413/UDP":3},
{"date":"2016-05-08","23/TCP":47,"53413/UDP":2},
{"date":"2016-05-09","23/TCP":45,"53413/UDP":6},
{"date":"2016-05-10","23/TCP":47,"53413/UDP":3},
{"date":"2016-05-11","23/TCP":59,"53413/UDP":1},
{"date":"2016-05-12","23/TCP":27,"53413/UDP":1},
{"date":"2016-05-13","23/TCP":69,"53413/UDP":1},
{"date":"2016-05-14","23/TCP":69,"53413/UDP":1},
{"date":"2016-05-15","23/TCP":45,"53413/UDP":1},
{"date":"2016-05-16","23/TCP":85,"53413/UDP":2},
{"date":"2016-05-17","23/TCP":47,"53413/UDP":1},
{"date":"2016-05-18","23/TCP":57,"53413/UDP":1},
{"date":"2016-05-19","23/TCP":85,"53413/UDP":3},
{"date":"2016-05-20","23/TCP":60,"53413/UDP":2},
{"date":"2016-05-21","23/TCP":27,"53413/UDP":3},
{"date":"2016-05-22","23/TCP":78,"53413/UDP":4},
{"date":"2016-05-23","23/TCP":59,"53413/UDP":2},
{"date":"2016-05-24","23/TCP":50,"53413/UDP":3},
{"date":"2016-05-25","23/TCP":102,"53413/UDP":2},
{"date":"2016-05-26","23/TCP":47,"53413/UDP":3},
{"date":"2016-05-27","23/TCP":69,"53413/UDP":5},
{"date":"2016-05-28","23/TCP":75,"53413/UDP":3},
{"date":"2016-05-29","23/TCP":50,"53413/UDP":8},
{"date":"2016-05-30","23/TCP":69,"53413/UDP":18},
{"date":"2016-05-31","23/TCP":70,"53413/UDP":4},
{"date":"2016-06-01","23/TCP":79,"53413/UDP":3},
{"date":"2016-06-02","23/TCP":88,"53413/UDP":2},
{"date":"2016-06-03","23/TCP":57,"53413/UDP":3},
{"date":"2016-06-04","23/TCP":50,"53413/UDP":2},
{"date":"2016-06-05","23/TCP":45,"53413/UDP":4},
{"date":"2016-06-06","23/TCP":41,"53413/UDP":2},
{"date":"2016-06-07","23/TCP":57,"53413/UDP":3},
{"date":"2016-06-08","23/TCP":69,"53413/UDP":2},
{"date":"2016-06-09","23/TCP":72,"53413/UDP":3},
{"date":"2016-06-10","23/TCP":78,"53413/UDP":2},
{"date":"2016-06-11","23/TCP":63,"53413/UDP":4},
{"date":"2016-06-12","23/TCP":69,"53413/UDP":2},
{"date":"2016-06-13","23/TCP":85,"53413/UDP":3},
{"date":"2016-06-14","23/TCP":75,"53413/UDP":2},
{"date":"2016-06-15","23/TCP":75,"53413/UDP":2},
{"date":"2016-06-16","23/TCP":66,"53413/UDP":3},
{"date":"2016-06-17","23/TCP":95,"53413/UDP":2},
{"date":"2016-06-18","23/TCP":69,"53413/UDP":4},
{"date":"2016-06-19","23/TCP":95,"53413/UDP":2},
{"date":"2016-06-20","23/TCP":69,"53413/UDP":3},
{"date":"2016-06-21","23/TCP":69,"53413/UDP":2},
{"date":"2016-06-22","23/TCP":35,"53413/UDP":3},
{"date":"2016-06-23","23/TCP":54,"53413/UDP":5},
{"date":"2016-06-24","23/TCP":39,"53413/UDP":8},
{"date":"2016-06-25","23/TCP":57,"53413/UDP":4},
{"date":"2016-06-26","23/TCP":54,"53413/UDP":2},
{"date":"2016-06-27","23/TCP":41,"53413/UDP":3},
{"date":"2016-06-28","23/TCP":60,"53413/UDP":2},
{"date":"2016-06-29","23/TCP":91,"53413/UDP":3},
{"date":"2016-06-30","23/TCP":83,"53413/UDP":2},
{"date":"2016-07-01","23/TCP":94,"53413/UDP":3},
{"date":"2016-07-02","23/TCP":69,"53413/UDP":2},
{"date":"2016-07-03","23/TCP":89,"53413/UDP":4},
{"date":"2016-07-04","23/TCP":91,"53413/UDP":2},
{"date":"2016-07-05","23/TCP":69,"53413/UDP":3},
{"date":"2016-07-06","23/TCP":54,"53413/UDP":2},
{"date":"2016-07-07","23/TCP":75,"53413/UDP":2},
{"date":"2016-07-08","23/TCP":54,"53413/UDP":1},
{"date":"2016-07-09","23/TCP":72,"53413/UDP":40},
{"date":"2016-07-10","23/TCP":60,"53413/UDP":64},
{"date":"2016-07-11","23/TCP":47,"53413/UDP":66},
{"date":"2016-07-12","23/TCP":66,"53413/UDP":75},
{"date":"2016-07-13","23/TCP":69,"53413/UDP":88},
{"date":"2016-07-14","23/TCP":54,"53413/UDP":94},
{"date":"2016-07-15","23/TCP":57,"53413/UDP":116},
{"date":"2016-07-16","23/TCP":78,"53413/UDP":85},
{"date":"2016-07-17","23/TCP":57,"53413/UDP":66},
{"date":"2016-07-18","23/TCP":80,"53413/UDP":57},
{"date":"2016-07-19","23/TCP":110,"53413/UDP":50},
{"date":"2016-07-20","23/TCP":85,"53413/UDP":45},
{"date":"2016-07-21","23/TCP":66,"53413/UDP":43},
{"date":"2016-07-22","23/TCP":82,"53413/UDP":26},
{"date":"2016-07-23","23/TCP":82,"53413/UDP":29},
{"date":"2016-07-24","23/TCP":91,"53413/UDP":24},
{"date":"2016-07-25","23/TCP":60,"53413/UDP":24},
{"date":"2016-07-26","23/TCP":78,"53413/UDP":21},
{"date":"2016-07-27","23/TCP":88,"53413/UDP":19},
{"date":"2016-07-28","23/TCP":95,"53413/UDP":17},
{"date":"2016-07-29","23/TCP":75,"53413/UDP":16},
{"date":"2016-07-30","23/TCP":69,"53413/UDP":18},
{"date":"2016-07-31","23/TCP":47,"53413/UDP":22},
{"date":"2016-08-01","23/TCP":47,"53413/UDP":16},
{"date":"2016-08-02","23/TCP":52,"53413/UDP":14},
{"date":"2016-08-03","23/TCP":57,"53413/UDP":12},
{"date":"2016-08-04","23/TCP":50,"53413/UDP":4},
{"date":"2016-08-05","23/TCP":47,"53413/UDP":1},
{"date":"2016-08-06","23/TCP":75,"53413/UDP":1},
{"date":"2016-08-07","23/TCP":78,"53413/UDP":2},
{"date":"2016-08-08","23/TCP":75,"53413/UDP":1},
{"date":"2016-08-09","23/TCP":69,"53413/UDP":1},
{"date":"2016-08-10","23/TCP":55,"53413/UDP":2},
{"date":"2016-08-11","23/TCP":43,"53413/UDP":1},
{"date":"2016-08-12","23/TCP":82,"53413/UDP":1},
{"date":"2016-08-13","23/TCP":83,"53413/UDP":1},
{"date":"2016-08-14","23/TCP":43,"53413/UDP":2},
{"date":"2016-08-15","23/TCP":69,"53413/UDP":1},
{"date":"2016-08-16","23/TCP":75,"53413/UDP":1},
{"date":"2016-08-17","23/TCP":57,"53413/UDP":1},
{"date":"2016-08-18","23/TCP":85,"53413/UDP":1},
{"date":"2016-08-19","23/TCP":97,"53413/UDP":1},
{"date":"2016-08-20","23/TCP":85,"53413/UDP":1},
{"date":"2016-08-21","23/TCP":54,"53413/UDP":3},
{"date":"2016-08-22","23/TCP":72,"53413/UDP":21},
{"date":"2016-08-23","23/TCP":60,"53413/UDP":2},
{"date":"2016-08-24","23/TCP":75,"53413/UDP":1},
{"date":"2016-08-25","23/TCP":57,"53413/UDP":1},
{"date":"2016-08-26","23/TCP":60,"53413/UDP":1},
{"date":"2016-08-27","23/TCP":66,"53413/UDP":2},
{"date":"2016-08-28","23/TCP":72,"53413/UDP":1},
{"date":"2016-08-29","23/TCP":43,"53413/UDP":1},
{"date":"2016-08-30","23/TCP":70,"53413/UDP":1},
{"date":"2016-08-31","23/TCP":91,"53413/UDP":1},
{"date":"2016-09-01","23/TCP":85,"53413/UDP":1},
{"date":"2016-09-02","23/TCP":69,"53413/UDP":1},
{"date":"2016-09-03","23/TCP":66,"53413/UDP":1},
{"date":"2016-09-04","23/TCP":72,"53413/UDP":1},
{"date":"2016-09-05","23/TCP":144,"53413/UDP":2},
{"date":"2016-09-06","23/TCP":88,"53413/UDP":1},
{"date":"2016-09-07","23/TCP":144,"53413/UDP":1},
{"date":"2016-09-08","23/TCP":170,"53413/UDP":1},
{"date":"2016-09-09","23/TCP":119,"53413/UDP":1},
{"date":"2016-09-10","23/TCP":94,"53413/UDP":2},
{"date":"2016-09-11","23/TCP":143,"53413/UDP":1},
{"date":"2016-09-12","23/TCP":122,"53413/UDP":1},
{"date":"2016-09-13","23/TCP":136,"53413/UDP":1},
{"date":"2016-09-14","23/TCP":131,"53413/UDP":2},
{"date":"2016-09-15","23/TCP":74,"53413/UDP":1},
{"date":"2016-09-16","23/TCP":159,"53413/UDP":1},
{"date":"2016-09-17","23/TCP":128,"53413/UDP":1},
{"date":"2016-09-18","23/TCP":220,"53413/UDP":2},
{"date":"2016-09-19","23/TCP":107,"53413/UDP":1},
{"date":"2016-09-20","23/TCP":103,"53413/UDP":1},
{"date":"2016-09-21","23/TCP":78,"53413/UDP":1},
{"date":"2016-09-22","23/TCP":122,"53413/UDP":1},
{"date":"2016-09-23","23/TCP":69,"53413/UDP":2},
{"date":"2016-09-24","23/TCP":50,"53413/UDP":1},
{"date":"2016-09-25","23/TCP":64,"53413/UDP":1},
{"date":"2016-09-26","23/TCP":66,"53413/UDP":1},
{"date":"2016-09-27","23/TCP":97,"53413/UDP":2},
{"date":"2016-09-28","23/TCP":60,"53413/UDP":1},
{"date":"2016-09-29","23/TCP":113,"53413/UDP":1},
{"date":"2016-09-30","23/TCP":141,"53413/UDP":1},
{"date":"2016-10-01","23/TCP":63,"53413/UDP":1},
{"date":"2016-10-02","23/TCP":54,"53413/UDP":1},
{"date":"2016-10-03","23/TCP":125,"53413/UDP":1},
{"date":"2016-10-04","23/TCP":103,"53413/UDP":2},
{"date":"2016-10-05","23/TCP":125,"53413/UDP":1},
{"date":"2016-10-06","23/TCP":75,"53413/UDP":1},
{"date":"2016-10-07","23/TCP":69,"53413/UDP":1},
{"date":"2016-10-08","23/TCP":113,"53413/UDP":1},
{"date":"2016-10-09","23/TCP":134,"53413/UDP":1},
{"date":"2016-10-10","23/TCP":153,"53413/UDP":0},
{"date":"2016-10-11","23/TCP":128,"53413/UDP":0},
{"date":"2016-10-12","23/TCP":320,"53413/UDP":0},
{"date":"2016-10-13","23/TCP":141,"53413/UDP":0},
{"date":"2016-10-14","23/TCP":138,"53413/UDP":0},
{"date":"2016-10-15","23/TCP":107,"53413/UDP":0},
{"date":"2016-10-16","23/TCP":144,"53413/UDP":0},
{"date":"2016-10-17","23/TCP":175,"53413/UDP":0},
{"date":"2016-10-18","23/TCP":82,"53413/UDP":0},
{"date":"2016-10-19","23/TCP":141,"53413/UDP":0},
{"date":"2016-10-20","23/TCP":110,"53413/UDP":0},
{"date":"2016-10-21","23/TCP":181,"53413/UDP":0},
{"date":"2016-10-22","23/TCP":244,"53413/UDP":0},
{"date":"2016-10-23","23/TCP":295,"53413/UDP":0},
{"date":"2016-10-24","23/TCP":269,"53413/UDP":0},
{"date":"2016-10-25","23/TCP":131,"53413/UDP":0},
{"date":"2016-10-26","23/TCP":315,"53413/UDP":0},
{"date":"2016-10-27","23/TCP":194,"53413/UDP":0},
{"date":"2016-10-28","23/TCP":159,"53413/UDP":0},
{"date":"2016-10-29","23/TCP":200,"53413/UDP":0},
{"date":"2016-10-30","23/TCP":209,"53413/UDP":0},
{"date":"2016-10-31","23/TCP":112,"53413/UDP":0},
{"date":"2016-11-01","23/TCP":191,"53413/UDP":0},
{"date":"2016-11-02","23/TCP":231,"53413/UDP":0},
{"date":"2016-11-03","23/TCP":231,"53413/UDP":0},
{"date":"2016-11-04","23/TCP":169,"53413/UDP":0},
{"date":"2016-11-05","23/TCP":105,"53413/UDP":0},
{"date":"2016-11-06","23/TCP":130,"53413/UDP":0},
{"date":"2016-11-07","23/TCP":281,"53413/UDP":0},
{"date":"2016-11-08","23/TCP":119,"53413/UDP":0},
{"date":"2016-11-09","23/TCP":135,"53413/UDP":0},
{"date":"2016-11-10","23/TCP":141,"53413/UDP":0},
{"date":"2016-11-11","23/TCP":163,"53413/UDP":0},
{"date":"2016-11-12","23/TCP":83,"53413/UDP":0},
{"date":"2016-11-13","23/TCP":175,"53413/UDP":0},
{"date":"2016-11-14","23/TCP":200,"53413/UDP":0},
{"date":"2016-11-15","23/TCP":188,"53413/UDP":0},
{"date":"2016-11-16","23/TCP":170,"53413/UDP":0}
]
},
"vconcat":[
{
"title":{"text":"＜日本への通信＞","offset":0},
"width":981,"height":214,
"data":{"name":"to_japan"},
"transform":[{"fold":["23/TCP","53413/UDP"],"as":["port","count"]}],
"mark":{"type":"line","strokeWidth":2.8},
"encoding":{
"x":{"field":"date","type":"temporal","scale":{"type":"utc","domain":[{"year":2015,"month":12,"date":17,"utc":true},{"year":2016,"month":11,"date":16,"utc":true}]},
"axis":{"title":null,"grid":false,"labelPadding":4,"labelOverlap":false,"values":[{"year":2016,"month":1,"date":1,"utc":true},{"year":2016,"month":2,"date":1,"utc":true},{"year":2016,"month":3,"date":1,"utc":true},{"year":2016,"month":4,"date":1,"utc":true},{"year":2016,"month":5,"date":1,"utc":true},{"year":2016,"month":6,"date":1,"utc":true},{"year":2016,"month":7,"date":1,"utc":true},{"year":2016,"month":8,"date":1,"utc":true},{"year":2016,"month":9,"date":1,"utc":true},{"year":2016,"month":10,"date":1,"utc":true},{"year":2016,"month":11,"date":1,"utc":true}],"labelExpr":"utcFormat(datum.value, '%Y年%-m月')"}},
"y":{"field":"count","type":"quantitative","scale":{"domain":[0,140000],"nice":false},
"axis":{"title":null,"grid":true,"values":[0,20000,40000,60000,80000,100000,120000,140000],"format":",.0f","labelPadding":8,"minExtent":60,"maxExtent":60}},
"color":{"field":"port","type":"nominal","scale":{"domain":["23/TCP","53413/UDP"],"range":["#000000","#4e6aa5"]},
"legend":{"title":null,"encode":{"legend":{"update":{"strokeDash":{"value":[4,3]},"strokeWidth":{"value":1}}},"symbols":{"update":{"fill":{"signal":"datum.value === '23/TCP' ? '#000000' : '#4e6aa5'"}}}}}}
}
},
{
"title":{"text":"＜日本からの通信＞","offset":2},
"width":981,"height":214,
"data":{"name":"from_japan"},
"transform":[{"fold":["23/TCP","53413/UDP"],"as":["port","count"]}],
"mark":{"type":"line","strokeWidth":2.6},
"encoding":{
"x":{"field":"date","type":"temporal","scale":{"type":"utc","domain":[{"year":2015,"month":12,"date":17,"utc":true},{"year":2016,"month":11,"date":16,"utc":true}]},
"axis":{"title":null,"grid":false,"labelPadding":4,"labelOverlap":false,"values":[{"year":2016,"month":1,"date":1,"utc":true},{"year":2016,"month":2,"date":1,"utc":true},{"year":2016,"month":3,"date":1,"utc":true},{"year":2016,"month":4,"date":1,"utc":true},{"year":2016,"month":5,"date":1,"utc":true},{"year":2016,"month":6,"date":1,"utc":true},{"year":2016,"month":7,"date":1,"utc":true},{"year":2016,"month":8,"date":1,"utc":true},{"year":2016,"month":9,"date":1,"utc":true},{"year":2016,"month":10,"date":1,"utc":true},{"year":2016,"month":11,"date":1,"utc":true}],"labelExpr":"utcFormat(datum.value, '%Y年%-m月')"}},
"y":{"field":"count","type":"quantitative","scale":{"domain":[0,400],"nice":false},
"axis":{"title":null,"grid":true,"values":[0,100,200,300,400],"format":"d","labelPadding":8,"minExtent":60,"maxExtent":60}},
"color":{"field":"port","type":"nominal","scale":{"domain":["23/TCP","53413/UDP"],"range":["#000000","#4e6aa5"]},
"legend":{"title":null,"encode":{"legend":{"update":{"strokeDash":{"value":[4,3]},"strokeWidth":{"value":1}}},"symbols":{"update":{"fill":{"signal":"datum.value === '23/TCP' ? '#000000' : '#4e6aa5'"}}}}}}
}
}
]
}
